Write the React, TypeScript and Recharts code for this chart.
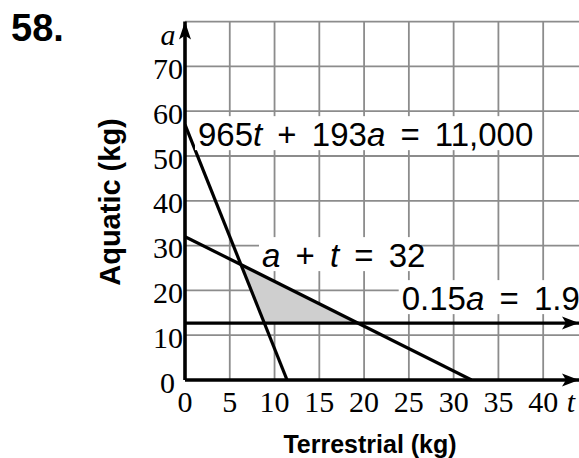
import { ComposedChart, XAxis, YAxis, CartesianGrid, Line, Area, ReferenceDot } from 'recharts';

// axis ticks (t = terrestrial kg, a = aquatic kg)
const X_TICKS = [0, 5, 10, 15, 20, 25, 30, 35, 40];
const Y_TICKS = [0, 10, 20, 30, 40, 50, 60, 70];
const GRID_X = [5, 10, 15, 20, 25, 30, 35, 40];
const GRID_Y = [10, 20, 30, 40, 50, 60, 70, 80];

// constraint lines, endpoints
const proteinLine = [{ t: 0, a: 57 }, { t: 11.4, a: 0 }];
const totalLine = [{ t: 0, a: 32 }, { t: 32, a: 0 }];
const fatLine = [{ t: 0, a: 12.7 }, { t: 44, a: 12.7 }];

// shaded feasible region [low, high]
const feasible = [
  { t: 6.2, a: [25.8, 25.8] },
  { t: 8.9, a: [12.7, 23.1] },
  { t: 19.3, a: [12.7, 12.7] },
];

const LABEL_PROTEIN = [{ s: '965' }, { s: 't', i: true }, { s: ' + 193' }, { s: 'a', i: true }, { s: ' = 11,000' }];
const LABEL_TOTAL = [{ s: 'a', i: true }, { s: ' + ' }, { s: 't', i: true }, { s: ' = 32' }];
const LABEL_FAT = [{ s: '0.15' }, { s: 'a', i: true }, { s: ' = 1.9' }];

const SANS = "'Liberation Sans', Arial, Helvetica, sans-serif";
const SERIF = "'Liberation Serif', 'Times New Roman', serif";

type Part = { s: string; i?: boolean };

const eqLabel = (parts: Part[], w: number) => (props: any) => {
  const { cx, cy } = props;
  return (
    <g>
      <rect x={cx - 3} y={cy - 30} width={w} height={34} fill="#fff" />
      <text x={cx} y={cy} fontSize={33} fontFamily={SANS} fill="#000" style={{ wordSpacing: 6 }}>
        {parts.map((p, k) => (
          <tspan key={k} fontStyle={p.i ? 'italic' : 'normal'}>{p.s}</tspan>
        ))}
      </text>
    </g>
  );
};

const varLabel = (s: string) => (props: any) => (
  <text x={props.cx} y={props.cy} dy="0.35em" textAnchor="middle" fontSize={30} fontStyle="italic" fontFamily={SERIF} fill="#000">
    {s}
  </text>
);

const arrow = (dir: 'up' | 'right') => (props: any) => {
  const { cx, cy } = props;
  const d =
    dir === 'right'
      ? `M${cx},${cy} L${cx - 17},${cy - 6.5} L${cx - 13},${cy} L${cx - 17},${cy + 6.5} Z`
      : `M${cx},${cy} L${cx - 6},${cy + 18} L${cx},${cy + 14} L${cx + 6},${cy + 18} Z`;
  return <path d={d} fill="#000" />;
};

const XTick = (props: any) => {
  const { x, y, payload } = props;
  return (
    <text x={x} y={y} dy="0.71em" textAnchor="middle" fontSize={30} fontFamily={SERIF} fill="#000">
      {payload.value}
    </text>
  );
};

const YTick = (props: any) => {
  const { x, y, payload } = props;
  return (
    <text x={payload.value === 0 ? x - 8 : x} y={y + 2} dy="0.355em" textAnchor="end" fontSize={30} fontFamily={SERIF} fill="#000">
      {payload.value}
    </text>
  );
};

export default function App() {
  return (
    <div style={{ position: 'absolute', left: 0, top: 0, width: 579, height: 458, background: '#fff', overflow: 'hidden' }}>
      <ComposedChart width={579} height={458} margin={{ top: 21.6, right: 0, bottom: 0, left: 0 }}>
        <CartesianGrid horizontalValues={GRID_Y} verticalValues={GRID_X} stroke="#8c8c8c" strokeWidth={1.8} />
        <XAxis
          type="number"
          dataKey="t"
          domain={[0, 44]}
          ticks={X_TICKS}
          height={78}
          tickSize={0}
          tickMargin={11}
          tick={<XTick />}
          axisLine={{ stroke: '#000', strokeWidth: 3.6 }}
          tickLine={false}
          allowDataOverflow
        />
        <YAxis
          type="number"
          dataKey="a"
          domain={[0, 80]}
          ticks={Y_TICKS}
          width={185}
          tickSize={0}
          tickMargin={2}
          tick={<YTick />}
          axisLine={{ stroke: '#000', strokeWidth: 3.6 }}
          tickLine={false}
          allowDataOverflow
        />

        <Area data={feasible} dataKey="a" type="linear" fill="#cfcfcf" fillOpacity={1} stroke="none" isAnimationActive={false} />

        <ReferenceDot x={1.45} y={52.2} r={1} ifOverflow="visible" shape={eqLabel(LABEL_PROTEIN, 345)} />
        <ReferenceDot x={8.6} y={25.2} r={1} ifOverflow="visible" shape={eqLabel(LABEL_TOTAL, 162)} />
        <ReferenceDot x={24.2} y={15.6} r={1} ifOverflow="visible" shape={eqLabel(LABEL_FAT, 200)} />

        <Line data={proteinLine} dataKey="a" type="linear" stroke="#000" strokeWidth={3.2} dot={false} isAnimationActive={false} />
        <Line data={totalLine} dataKey="a" type="linear" stroke="#000" strokeWidth={3.2} dot={false} isAnimationActive={false} />
        <Line data={fatLine} dataKey="a" type="linear" stroke="#000" strokeWidth={3.4} dot={false} isAnimationActive={false} />

        <ReferenceDot x={44} y={0} r={1} ifOverflow="visible" shape={arrow('right')} />
        <ReferenceDot x={44} y={12.7} r={1} ifOverflow="visible" shape={arrow('right')} />
        <ReferenceDot x={0} y={80} r={1} ifOverflow="visible" shape={arrow('up')} />

        <ReferenceDot x={-1.9} y={77.2} r={1} ifOverflow="visible" shape={varLabel('a')} />
        <ReferenceDot x={43.1} y={-4.9} r={1} ifOverflow="visible" shape={varLabel('t')} />
      </ComposedChart>

      <div style={{ position: 'absolute', left: 11, top: 9, fontFamily: SANS, fontWeight: 'bold', fontSize: 38, lineHeight: '38px' }}>
        58.
      </div>
      <div
        style={{
          position: 'absolute',
          left: 110,
          top: 202,
          transform: 'translate(-50%, -50%) rotate(-90deg)',
          fontFamily: SANS,
          fontWeight: 'bold',
          fontSize: 29,
          lineHeight: '29px',
          whiteSpace: 'nowrap',
        }}
      >
        Aquatic (kg)
      </div>
      <div
        style={{
          position: 'absolute',
          left: 370,
          top: 432,
          transform: 'translateX(-50%)',
          fontFamily: SANS,
          fontWeight: 'bold',
          fontSize: 25,
          lineHeight: '25px',
          whiteSpace: 'nowrap',
        }}
      >
        Terrestrial (kg)
      </div>
    </div>
  );
}
